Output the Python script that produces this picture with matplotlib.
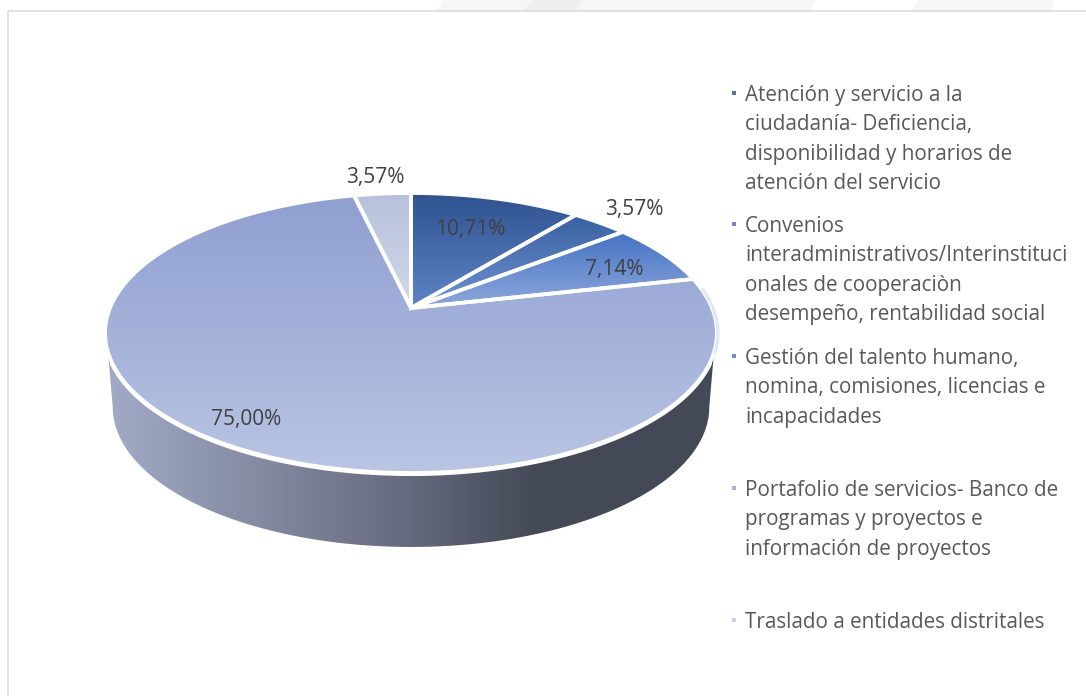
import numpy as np
import matplotlib
matplotlib.use("Agg")
import matplotlib.pyplot as plt
from matplotlib.colors import LinearSegmentedColormap
from matplotlib.patches import Polygon

plt.rcParams['font.family'] = ['Open Sans', 'DejaVu Sans']

# data
values = [10.71, 3.57, 7.14, 75.00, 3.57]
value_labels = ["10,71%", "3,57%", "7,14%", "75,00%", "3,57%"]
legend_lines = [
    ["Atención y servicio a la", "ciudadanía- Deficiencia,", "disponibilidad y horarios de", "atención del servicio"],
    ["Convenios", "interadministrativos/Interinstituci", "onales de cooperaciòn", "desempeño, rentabilidad social"],
    ["Gestión del talento humano,", "nomina, comisiones, licencias e", "incapacidades"],
    ["Portafolio de servicios- Banco de", "programas y proyectos e", "información de proyectos"],
    ["Traslado a entidades distritales"],
]

# styles
top_colors = ["#2f5290", "#38609f", "#4472c4", "#8f9fd1", "#b7c1dc"]
bottom_colors = ["#5f85c6", "#7193d2", "#8ea8da", "#b9c5e3", "#d2d8ea"]
marker_colors = ["#4f74b0", "#6a8cc8", "#6f8fd0", "#a3b3dc", "#c9d1e8"]
label_pos = [(470, 227), (634, 207), (614, 268), (246, 418), (375, 175)]
legend_y = [93, 224, 356, 488, 620]
line_h = 29.3

# pie projection (tilted disc in perspective, apex at cx, cy)
cx, cy = 411, 308
X, H, k = 301, 135.5, 0.1786
depth = 74
shrink = 0.975


def project(theta):
    u, v = np.sin(theta), np.cos(theta)
    w = 1 + k * v
    return cx + X * u / w, cy - H * v / w


def gradient(ax, patch, c0, c1, extent=None):
    cmap = LinearSegmentedColormap.from_list("g", [c0, c1])
    g = np.linspace(0, 1, 256).reshape(-1, 1)
    im = ax.imshow(g, cmap=cmap, extent=extent, aspect="auto", zorder=patch.get_zorder(),
                   interpolation="bilinear", origin="upper")
    im.set_clip_path(patch)
    return im


fig = plt.figure(figsize=(10.86, 6.96), dpi=100, facecolor="white")
ax = fig.add_axes([0, 0, 1, 1])
ax.axis("off")

# stripes of the page behind the chart
ax.add_patch(Polygon([(436, 11), (443, 0), (816, 0), (810, 11)], fc="#f6f6f6", ec="none"))
ax.add_patch(Polygon([(524, 11), (531, 0), (583, 0), (577, 11)], fc="#efefef", ec="none"))
ax.add_patch(Polygon([(912, 11), (918, 0), (1055, 0), (1050, 11)], fc="#f6f6f6", ec="none"))
# frame
ax.plot([8, 8, 1086], [696, 11, 11], color="#d9d9d9", lw=1.1)

# side of the pie
t_top = np.linspace(np.radians(108), np.radians(252), 300)
t_bot = np.linspace(np.radians(259.7), np.radians(100.3), 300)
sx, sy = project(t_top)
bx, by = project(t_bot)
bx = cx + (bx - cx) * shrink
by = by + depth
side = Polygon(np.r_[np.c_[sx, sy], np.c_[bx, by]], fc="none", ec="none", zorder=2)
ax.add_patch(side)
side_cmap = LinearSegmentedColormap.from_list(
    "side", [(0, "#444957"), (0.3, "#444957"), (0.55, "#6b7084"), (1, "#a3acc8")])
grad = np.linspace(1, 0, 512).reshape(1, -1)
im = ax.imshow(grad, cmap=side_cmap, vmin=0, vmax=1, extent=(100, 725, 560, 320),
               aspect="auto", zorder=2)
im.set_clip_path(side)

# slices from the values
total = sum(values)
start = 0.0
slices = []
for i, val in enumerate(values):
    a0 = start
    a1 = start + 2 * np.pi * val / total
    start = a1
    t = np.linspace(a0, a1, 200)
    px, py = project(t)
    pts = np.r_[[[cx, cy]], np.c_[px, py]]
    p = Polygon(pts, closed=True, fc="none", ec="none", zorder=3)
    ax.add_patch(p)
    ext = (pts[:, 0].min(), pts[:, 0].max(), pts[:, 1].max(), pts[:, 1].min())
    gradient(ax, p, top_colors[i], bottom_colors[i], extent=ext)
    slices.append(pts)

for pts in slices:
    ax.add_patch(Polygon(pts, closed=True, fc="none", ec="white", lw=2.7, joinstyle="miter", zorder=4))

# the white rim is wider along the front of the disc
t_front = np.linspace(np.radians(112), np.radians(248), 200)
fx, fy = project(t_front)
ax.plot(fx, fy + 1, color="white", lw=3.0, zorder=4, solid_capstyle="round")

# pale edge on the right of the disc
t_edge = np.linspace(np.radians(82), np.radians(108), 60)
ex, ey = project(t_edge)
ax.plot(ex + 1, ey, color="#e3e6f2", lw=2.3, zorder=5, solid_capstyle="round")

# value labels
for s, (lx, ly) in zip(value_labels, label_pos):
    ax.text(lx, ly + 2, s, ha="center", va="center", fontsize=15, color="#404040", zorder=6)

# legend
for lines, y0, col in zip(legend_lines, legend_y, marker_colors):
    ax.add_patch(Polygon([(731.5, y0 - 2), (735.5, y0 - 2), (735.5, y0 + 2), (731.5, y0 + 2)], fc=col, ec="none"))
    for j, line in enumerate(lines):
        ax.text(745, y0 + 2.5 + j * line_h, line, ha="left", va="center", fontsize=14.9, color="#595959")

ax.set_xlim(0, 1086)
ax.set_ylim(696, 0)
fig.savefig("out.png", dpi=100)
